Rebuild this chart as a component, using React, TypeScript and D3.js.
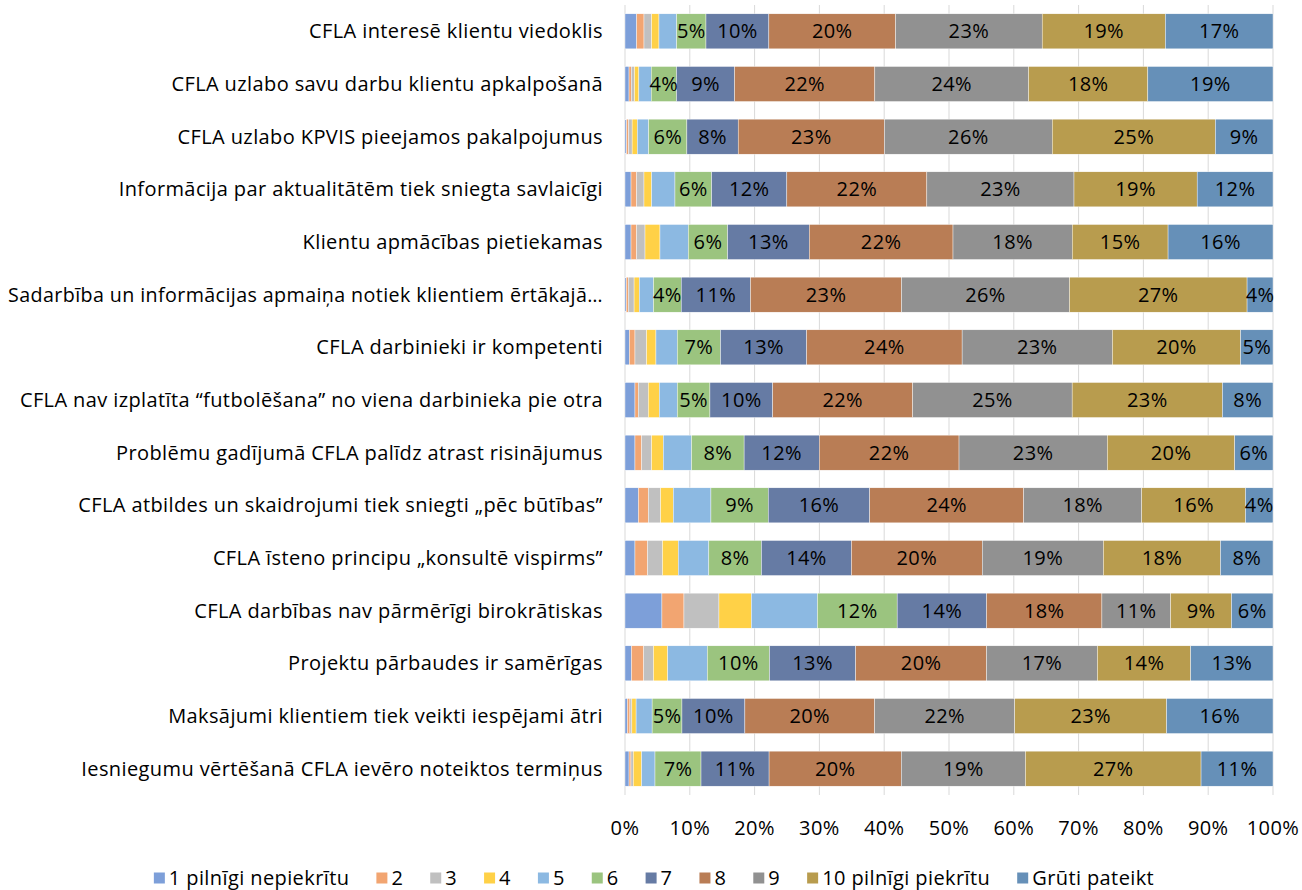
import React, { useEffect, useRef } from "react";
import * as d3 from "d3";

const categories = [
  "CFLA interesē klientu viedoklis",
  "CFLA uzlabo savu darbu klientu apkalpošanā",
  "CFLA uzlabo KPVIS pieejamos pakalpojumus",
  "Informācija par aktualitātēm tiek sniegta savlaicīgi",
  "Klientu apmācības pietiekamas",
  "Sadarbība un informācijas apmaiņa notiek klientiem ērtākajā…",
  "CFLA darbinieki ir kompetenti",
  "CFLA nav izplatīta “futbolēšana” no viena darbinieka pie otra",
  "Problēmu gadījumā CFLA palīdz atrast risinājumus",
  "CFLA atbildes un skaidrojumi tiek sniegti „pēc būtības”",
  "CFLA īsteno principu „konsultē vispirms”",
  "CFLA darbības nav pārmērīgi birokrātiskas",
  "Projektu pārbaudes ir samērīgas",
  "Maksājumi klientiem tiek veikti iespējami ātri",
  "Iesniegumu vērtēšanā CFLA ievēro noteiktos termiņus",
];

const seriesNames = [
  "1 pilnīgi nepiekrītu",
  "2",
  "3",
  "4",
  "5",
  "6",
  "7",
  "8",
  "9",
  "10 pilnīgi piekrītu",
  "Grūti pateikt",
];

const colors = [
  "#7d9fd9",
  "#f2a571",
  "#c0c0c0",
  "#ffd147",
  "#8cb9e2",
  "#9bc47f",
  "#667ba4",
  "#b97d55",
  "#919191",
  "#b89c4e",
  "#6690b8",
];

// values in % per series, in category order (top to bottom)
const v1 = [1.8, 0.62, 0.25, 0.93, 0.93, 0.2, 0.67, 1.54, 1.54, 2.06, 1.54, 5.7, 1.0, 0.36, 0.62];
const v2 = [1.13, 0.35, 0.3, 0.87, 0.87, 0.3, 0.87, 0.51, 1.03, 1.54, 1.95, 3.4, 1.9, 0.4, 0.3];
const v3 = [1.18, 0.5, 0.55, 1.13, 1.29, 0.9, 1.8, 1.54, 1.54, 1.9, 2.31, 5.4, 1.5, 0.3, 0.36];
const v4 = [1.13, 0.67, 0.8, 1.18, 2.31, 0.8, 1.44, 1.7, 1.8, 1.95, 2.42, 5.0, 2.2, 0.65, 1.29];
const v5 = [2.73, 1.9, 1.75, 3.6, 4.37, 2.2, 3.29, 2.78, 4.37, 5.81, 4.73, 10.2, 6.1, 2.47, 2.06];
const v6 = [4.52, 3.91, 5.91, 5.66, 6.07, 4.27, 6.68, 5.04, 8.12, 8.84, 8.12, 12.3, 9.6, 4.6, 7.1];
const v7 = [9.7, 8.95, 7.92, 11.6, 12.6, 10.69, 13.3, 9.7, 11.6, 15.66, 13.9, 13.8, 13.3, 9.7, 10.5];
const v8 = [19.55, 21.63, 22.6, 21.6, 22.2, 23.3, 24.0, 21.6, 21.6, 23.76, 20.2, 17.8, 20.2, 20.0, 20.4];
const v9 = [22.6, 23.7, 25.9, 22.7, 18.4, 25.9, 23.2, 24.6, 22.9, 18.2, 18.7, 10.6, 17.1, 21.6, 19.15];
const v10 = [19.0, 18.4, 25.2, 19.0, 14.8, 27.4, 19.8, 23.2, 19.7, 16.02, 18.1, 9.4, 14.4, 23.4, 27.1];
const vGP = [16.6, 19.3, 8.9, 11.7, 16.2, 4.0, 5.0, 7.8, 5.9, 4.24, 8.1, 6.4, 12.7, 16.4, 11.1];

const seriesValues = [v1, v2, v3, v4, v5, v6, v7, v8, v9, v10, vGP];
const labelledFrom = 5; // data labels only from series "6" on

const xTicks = [0, 0.1, 0.2, 0.3, 0.4, 0.5, 0.6, 0.7, 0.8, 0.9, 1];

const FONT = "'Open Sans', Lato, sans-serif";
const FS = 20;
const LS = 0.4; // letter spacing, to get closer to the original Calibri widths

const App = () => {
  const container = useRef<SVGSVGElement | null>(null);

  useEffect(() => {
    const width = 1302;
    const marginLeft = 625;
    const marginRight = 29;
    const plotTop = 5;
    const plotBottom = 795;
    const labelRight = marginLeft - 22;
    const labelMaxW = labelRight - 8;

    const svg = d3.select(container.current);
    svg.selectAll("*").remove();

    // table of rows for the stack
    const rows = categories.map((c, i) => {
      const row: any = { category: c };
      const total = d3.sum(seriesValues, (s) => s[i]);
      seriesNames.forEach((n, j) => {
        row[n] = seriesValues[j][i] / total;
        row["raw_" + n] = seriesValues[j][i];
      });
      return row;
    });

    const stack = d3.stack().keys(seriesNames)(rows);

    const x = d3.scaleLinear().domain([0, 1]).range([marginLeft, width - marginRight]);
    const y = d3
      .scaleBand()
      .domain(categories)
      .range([plotTop, plotBottom])
      .paddingInner(0.335)
      .paddingOuter(0.1675);

    // gridlines
    svg
      .append("g")
      .selectAll("line")
      .data(xTicks)
      .join("line")
      .attr("x1", (d) => x(d))
      .attr("x2", (d) => x(d))
      .attr("y1", plotTop)
      .attr("y2", plotBottom)
      .attr("stroke", "#d9d9d9")
      .attr("stroke-width", 1);

    // bars
    const layers = svg
      .append("g")
      .selectAll("g")
      .data(stack)
      .join("g")
      .attr("fill", (_, i) => colors[i]);

    layers
      .selectAll("rect")
      .data((d) => d)
      .join("rect")
      .attr("x", (d) => x(d[0]))
      .attr("y", (d: any) => y(d.data.category)!)
      .attr("width", (d) => Math.max(0, x(d[1]) - x(d[0])))
      .attr("height", y.bandwidth())
      .attr("stroke", "#ffffff")
      .attr("stroke-width", 0.4);

    const textGroup = () =>
      svg
        .append("g")
        .attr("font-family", FONT)
        .attr("font-size", FS)
        .attr("letter-spacing", LS)
        .attr("fill", "#000");

    // data labels
    textGroup()
      .attr("text-anchor", "middle")
      .selectAll("g")
      .data(stack.slice(labelledFrom))
      .join("g")
      .selectAll("text")
      .data((s) => s.map((d: any) => ({ d, key: s.key })))
      .join("text")
      .attr("x", (o: any) => (x(o.d[0]) + x(o.d[1])) / 2)
      .attr("y", (o: any) => y(o.d.data.category)! + y.bandwidth() / 2)
      .attr("dy", "0.35em")
      .text((o: any) => Math.round(o.d.data["raw_" + o.key]) + "%");

    // category labels
    textGroup()
      .attr("text-anchor", "end")
      .selectAll("text")
      .data(categories)
      .join("text")
      .attr("x", labelRight)
      .attr("y", (d) => y(d)! + y.bandwidth() / 2)
      .attr("dy", "0.35em")
      .text((d) => d)
      .each(function () {
        // keep the longest label inside the page
        const t = this as SVGTextElement;
        if (t.getComputedTextLength() > labelMaxW) {
          d3.select(t)
            .attr("textLength", labelMaxW)
            .attr("lengthAdjust", "spacingAndGlyphs");
        }
      });

    // x axis tick labels
    textGroup()
      .attr("text-anchor", "middle")
      .selectAll("text")
      .data(xTicks)
      .join("text")
      .attr("x", (d) => x(d))
      .attr("y", 828)
      .attr("dy", "0.35em")
      .text((d) => d3.format(".0%")(d));

    // legend
    const items = textGroup().selectAll("g").data(seriesNames).join("g");

    items
      .append("rect")
      .attr("width", 11)
      .attr("height", 11)
      .attr("y", -5.5)
      .attr("fill", (_, i) => colors[i]);

    items
      .append("text")
      .attr("x", 15)
      .attr("dy", "0.35em")
      .text((d) => d);

    const gap = 27;
    let pos = 0;
    const offsets: number[] = [];
    items.each(function () {
      offsets.push(pos);
      const t = d3.select(this).select("text").node() as SVGTextElement;
      pos += 15 + t.getComputedTextLength() + gap;
    });
    const totalW = pos - gap;
    const start = 654 - totalW / 2;
    items.attr("transform", (_, i) => `translate(${start + offsets[i]},878)`);

    return () => {
      svg.selectAll("*").remove();
    };
  }, []);

  return (
    <svg
      ref={container}
      width={1302}
      height={890}
      style={{ position: "absolute", left: 0, top: 0, background: "#fff" }}
    />
  );
};

export default App;
